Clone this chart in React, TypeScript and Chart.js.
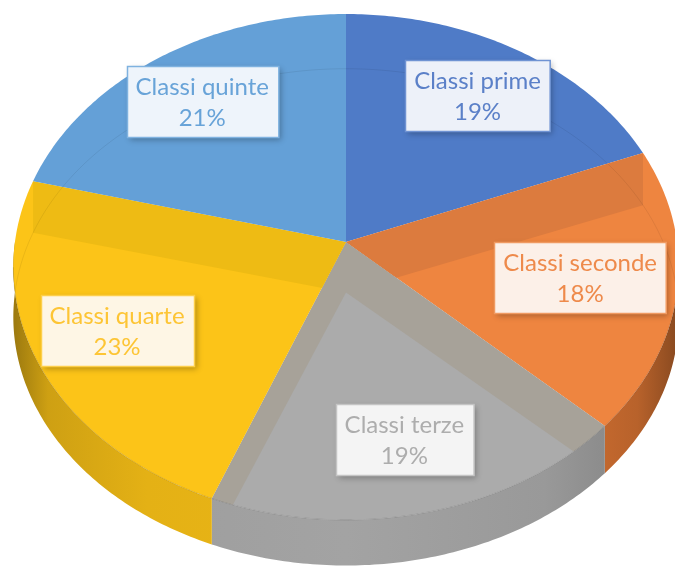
import React, { useEffect, useRef } from "react";
import { Chart, registerables } from "chart.js";

Chart.register(...registerables);

// ---- data ----
const categories = ["Classi prime", "Classi seconde", "Classi terze", "Classi quarte", "Classi quinte"];
const shares = [19, 18, 19, 23, 21];

// ---- styles ----
const topColors = ["#4F7BC7", "#EE8540", "#ABABAB", "#FCC418", "#64A0D7"];
const bandColors = ["#4A73BB", "#DC7B3E", "#A7A299", "#EEBB14", "#5D96CB"];
const wallColors = ["#4570BE", "#E67B36", "#A6A6A6", "#F0BA16", "#5C98CE"];
const textColors = ["#5B80C8", "#EE8A4B", "#ADADAD", "#FDC535", "#68A3D8"];
const boxFills = ["#EDF1F9", "#FCF0E8", "#F4F4F4", "#FEF6E5", "#EEF4FB"];
const boxBorders = ["#6F93D3", "#F09A62", "#C4C4C4", "#FDCF4A", "#7FB2E0"];

const FONT = "Lato, 'Open Sans', sans-serif";

type G = { cx: number; cy: number; k: number; a: number; d: number; da: number; b: number };

function geom(chart: any): G | null {
  const meta = chart.getDatasetMeta(0);
  const arc = meta && meta.data && meta.data[0];
  if (!arc) return null;
  const R = arc.outerRadius;
  return { cx: arc.x, cy: arc.y, k: R * 1.368, a: R * 1.035, d: R * 0.209, da: R * 0.0186, b: 0.0988 };
}

function proj(g: G, th: number, r: number, bottom: boolean): [number, number] {
  const X = r * Math.sin(th);
  const Z = -r * Math.cos(th);
  const w = 1 - g.b * Z;
  const x = g.cx + (g.k * X) / w;
  const y = bottom ? g.cy + g.d + ((g.a - g.da) * Z) / w : g.cy + (g.a * Z) / w;
  return [x, y];
}

function arcPts(g: G, t1: number, t2: number, bottom: boolean) {
  const n = Math.max(2, Math.ceil(Math.abs(t2 - t1) / (Math.PI / 240)));
  const pts: [number, number][] = [];
  for (let i = 0; i <= n; i++) pts.push(proj(g, t1 + ((t2 - t1) * i) / n, 1, bottom));
  return pts;
}

function hexRgb(h: string) {
  const n = parseInt(h.slice(1), 16);
  return [(n >> 16) & 255, (n >> 8) & 255, n & 255];
}
function shade(h: string, f: number) {
  const [r, g, b] = hexRgb(h);
  return `rgb(${Math.round(Math.min(255, r * f))},${Math.round(Math.min(255, g * f))},${Math.round(Math.min(255, b * f))})`;
}

function sliceAngles(chart: any) {
  const meta = chart.getDatasetMeta(0);
  return meta.data.map((arc: any) => [arc.startAngle + Math.PI / 2, arc.endAngle + Math.PI / 2]);
}

function topPath(ctx: CanvasRenderingContext2D, g: G, t1: number, t2: number) {
  ctx.beginPath();
  const c = proj(g, 0, 0, false);
  ctx.moveTo(c[0], c[1]);
  for (const p of arcPts(g, t1, t2, false)) ctx.lineTo(p[0], p[1]);
  ctx.closePath();
}

const pie3d = {
  id: "pie3d",
  beforeDatasetsDraw(chart: any) {
    const g = geom(chart);
    if (!g) return false;
    const ctx: CanvasRenderingContext2D = chart.ctx;
    const ang = sliceAngles(chart);
    ctx.save();

    // outer walls (front)
    ang.forEach(([t1, t2]: number[], i: number) => {
      const s = Math.max(t1, Math.PI / 2);
      const e = Math.min(t2, (3 * Math.PI) / 2);
      if (e <= s) return;
      const grad = ctx.createLinearGradient(g.cx - g.k, 0, g.cx + g.k, 0);
      const stops = [0, 0.05, 0.2, 0.5, 0.8, 0.94, 1];
      const fs = [0.66, 0.86, 0.95, 0.98, 0.92, 0.8, 0.6];
      stops.forEach((st, j) => grad.addColorStop(st, shade(wallColors[i], fs[j])));
      ctx.beginPath();
      const tp = arcPts(g, s, e, false);
      const bp = arcPts(g, s, e, true).reverse();
      ctx.moveTo(tp[0][0], tp[0][1]);
      for (const p of tp) ctx.lineTo(p[0], p[1]);
      for (const p of bp) ctx.lineTo(p[0], p[1]);
      ctx.closePath();
      ctx.fillStyle = grad;
      ctx.fill();
    });

    // top faces
    ang.forEach(([t1, t2]: number[], i: number) => {
      topPath(ctx, g, t1, t2);
      ctx.fillStyle = topColors[i];
      ctx.fill();
    });

    // inner radial walls seen through the slightly transparent tops
    const n = ang.length;
    for (let i = 0; i < n; i++) {
      const tb = ang[i][0];
      const norm = ((tb % (2 * Math.PI)) + 2 * Math.PI) % (2 * Math.PI);
      if (norm < 0.01 || norm > 2 * Math.PI - 0.01) continue;
      const owner = norm < Math.PI ? i : (i - 1 + n) % n;
      ctx.save();
      topPath(ctx, g, ang[owner][0], ang[owner][1]);
      ctx.clip();
      const a0 = proj(g, tb, 0, false);
      const a1 = proj(g, tb, 1, false);
      const b1 = proj(g, tb, 1, true);
      const b0 = proj(g, tb, 0, true);
      ctx.beginPath();
      ctx.moveTo(a0[0], a0[1]);
      ctx.lineTo(a1[0], a1[1]);
      ctx.lineTo(b1[0], b1[1]);
      ctx.lineTo(b0[0], b0[1]);
      ctx.closePath();
      ctx.fillStyle = bandColors[owner];
      ctx.fill();
      ctx.restore();
    }

    // faint back bottom rim seen through
    ctx.save();
    topPath(ctx, g, 0, 2 * Math.PI);
    ctx.clip();
    ctx.beginPath();
    const br = arcPts(g, -Math.PI / 2, Math.PI / 2, true);
    br.forEach((p, j) => (j ? ctx.lineTo(p[0], p[1]) : ctx.moveTo(p[0], p[1])));
    ctx.strokeStyle = "rgba(0,0,0,0.07)";
    ctx.lineWidth = 1;
    ctx.stroke();
    ctx.restore();

    // front top rim line
    ctx.beginPath();
    const fr = arcPts(g, Math.PI / 2 + 0.1, (3 * Math.PI) / 2 - 0.1, false);
    fr.forEach((p, j) => (j ? ctx.lineTo(p[0], p[1]) : ctx.moveTo(p[0], p[1])));
    ctx.strokeStyle = "rgba(0,0,0,0.12)";
    ctx.lineWidth = 1;
    ctx.stroke();

    ctx.restore();
    return false;
  },
  afterDraw(chart: any) {
    const g = geom(chart);
    if (!g) return;
    const ctx: CanvasRenderingContext2D = chart.ctx;
    const ang = sliceAngles(chart);
    const total = shares.reduce((s, v) => s + v, 0);
    const W = chart.width;
    ctx.save();
    ctx.font = `24px ${FONT}`;
    ang.forEach(([t1, t2]: number[], i: number) => {
      const mid = (t1 + t2) / 2;
      let [x, y] = proj(g, mid, 0.75, false);
      const l1 = categories[i];
      const l2 = Math.round((shares[i] / total) * 100) + "%";
      const tw = Math.max(ctx.measureText(l1).width, ctx.measureText(l2).width);
      const bw = tw + 18;
      const bh = 71;
      if (x + bw / 2 > W - 9) x = W - 9 - bw / 2;
      const bx = Math.round(x - bw / 2) + 0.5;
      const by = Math.round(y - bh / 2) + 0.5;
      ctx.save();
      ctx.shadowColor = "rgba(0,0,0,0.28)";
      ctx.shadowBlur = 6;
      ctx.shadowOffsetX = 2;
      ctx.shadowOffsetY = 2;
      ctx.fillStyle = boxFills[i];
      ctx.fillRect(bx, by, bw, bh);
      ctx.restore();
      ctx.strokeStyle = boxBorders[i];
      ctx.lineWidth = 1.5;
      ctx.strokeRect(bx, by, bw, bh);
      ctx.fillStyle = textColors[i];
      ctx.textAlign = "center";
      ctx.textBaseline = "middle";
      ctx.fillText(l1, x, by + 21);
      ctx.fillText(l2, x, by + 52);
    });
    ctx.restore();
  },
};

export default function App() {
  const ref = useRef<HTMLCanvasElement | null>(null);
  useEffect(() => {
    if (!ref.current) return;
    const chart = new Chart(ref.current, {
      type: "pie",
      data: {
        labels: categories,
        datasets: [{ data: shares, backgroundColor: topColors, borderWidth: 0 }],
      },
      options: {
        animation: false,
        responsive: true,
        maintainAspectRatio: false,
        layout: { padding: { left: 17, right: 0, top: 0, bottom: 82 } },
        plugins: { legend: { display: false }, tooltip: { enabled: false } },
      },
      plugins: [pie3d],
    });
    return () => chart.destroy();
  }, []);
  return (
    <div style={{ position: "fixed", left: 0, top: 0, width: 675, height: 566, background: "#fff" }}>
      <canvas ref={ref} />
    </div>
  );
}
